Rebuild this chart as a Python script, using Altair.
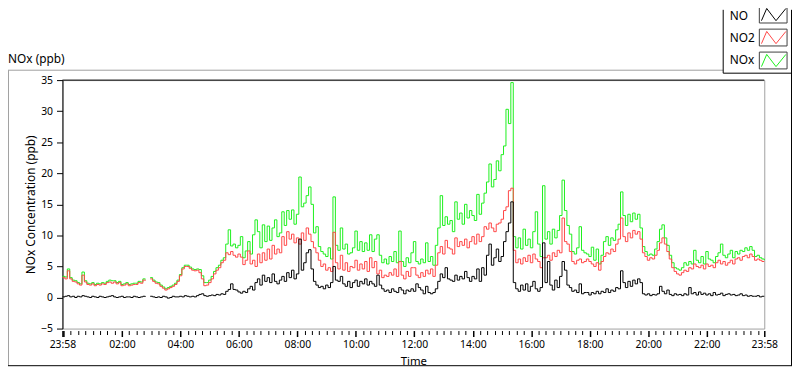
import altair as alt
import pandas as pd

# ---------------- data (5-minute samples starting 23:58) ----------------
STEP_MIN = 5
START_HOUR, START_MIN = 23, 58

NO = [
    0.1, 0.2, 0.3, 0.1, 0.2, 0.0, 0.2, 0.1, 0.3, 0.2,
    0.1, 0.0, 0.2, 0.1, 0.0, 0.2, 0.1, 0.0, 0.1, 0.2,
    0.3, 0.1, 0.0, 0.1, 0.2, 0.0, 0.1, 0.1, 0.0, 0.2,
    0.1, 0.0, 0.1, 0.2, 0.1, None, 0.2, 0.1, 0.0, 0.1,
    0.0, 0.2, 0.1, -0.1, 0.0, 0.2, 0.1, 0.1, 0.2, 0.1,
    0.3, 0.2, 0.1, 0.2, 0.1, 0.3, 0.5, 0.6, 0.3, 0.2,
    0.3, 0.4, 0.3, 0.5, 0.4, 0.6, 0.5, 1.0, 1.3, 2.2,
    1.3, 1.2,
    0.9, 0.7, 1.0, 0.8, 1.4, 1.8, 1.2, 2.4, 3.0, 2.0,
    3.6, 2.6, 3.2, 2.4, 3.8, 2.6, 2.2, 2.8, 3.4, 2.6,
    4.0, 3.2, 4.4, 3.0, 3.8, 9.4, 4.4, 5.6, 7.2, 7.7,
    4.6, 2.6, 2.0, 1.6, 1.8, 1.4, 2.0, 1.6, 2.4, 5.0,
    2.8, 2.6, 3.4, 2.2, 1.8, 2.6, 1.6, 2.4, 2.8, 1.8,
    2.6, 2.2, 3.0, 2.0, 2.6, 2.2, 1.8, 3.6, 2.0, 1.4,
    1.0, 1.2, 0.8, 1.4, 1.0, 0.8, 1.6, 1.2, 0.6, 1.2,
    1.0, 1.4,
    1.0, 2.2, 1.6, 1.2, 0.6, 1.8, 0.8, 0.6, 0.8, 1.4,
    2.6, 3.8, 3.2, 4.8, 3.0, 2.8, 2.6, 3.6, 2.8, 3.4,
    3.0, 4.2, 3.2, 2.6, 3.4, 3.0, 4.6, 2.6, 4.8, 3.6,
    6.8, 8.6, 5.2, 6.4, 7.8, 5.8, 6.6, 9.0, 10.6, 12.0,
    15.4, 2.4, 1.4, 1.0, 2.0, 1.2, 2.2, 1.0, 1.8, 2.6,
    1.4, 1.0, 1.6, 8.8, 2.4, 5.8, 2.0, 1.2, 2.8, 1.6,
    3.4, 5.8, 4.4, 2.0, 1.6, 1.0, 1.2, 0.8, 2.2, 0.6,
    0.8,
    0.8, 0.4, 0.8, 0.6, 1.0, 0.6, 1.0, 0.8, 1.4, 0.8,
    1.2, 1.0, 1.6, 1.4, 4.3, 2.4, 1.6, 2.6, 1.8, 2.8,
    2.2, 3.0, 2.4, 0.6, 0.4, 0.6, 0.3, 0.5, 0.4, 0.6,
    1.8, 1.0, 0.6, 1.2, 0.5, 0.3, 0.6, 0.4, 0.5, 0.3,
    0.6, 0.4, 1.6, 0.6, 0.8, 0.4, 0.9, 0.5, 0.7, 0.4,
    0.6, 0.3, 0.8, 0.4, 0.5, 0.7, 0.3, 0.5, 0.6, 0.4,
    0.5, 0.3, 0.4, 0.6, 0.3, 0.4, 0.2, 0.3, 0.2, 0.2,
    0.3, 0.1, 0.2, 0.2,
]

NO2 = [
    3.2, 3.0, 4.3, 3.0, 2.6, 2.5, 2.2, 2.0, 3.6, 2.5,
    2.1, 2.0, 2.2, 1.9, 2.1, 2.0, 2.2, 2.1, 2.4, 2.5,
    2.3, 2.5, 2.2, 2.4, 1.9, 2.0, 2.2, 1.9, 2.0, 2.1,
    2.1, 2.4, 2.3, 2.8, 2.7, None, 3.0, 2.6, 2.3, 2.2,
    1.8, 1.5, 1.2, 1.4, 1.6, 1.8, 2.1, 2.6, 3.5, 4.6,
    5.0, 5.0, 4.7, 4.4, 4.3, 4.4, 4.0, 3.0, 1.9, 2.0,
    2.4, 3.0, 3.8, 4.4, 4.8, 5.6, 6.0, 7.2, 6.9, 7.4,
    6.8, 6.5,
    7.0, 6.5, 5.3, 6.0, 7.5, 5.4, 6.0, 5.0, 7.0, 5.6,
    7.2, 6.0, 7.8, 6.2, 8.4, 7.0, 7.8, 7.2, 9.8, 8.4,
    10.6, 9.4, 10.2, 8.8, 9.6, 8.6, 10.4, 9.2, 11.2, 10.2,
    9.0, 8.0, 7.2, 6.0, 5.0, 5.4, 4.4, 4.8, 4.2, 10.5,
    5.6, 4.6, 6.8, 4.4, 5.6, 4.2, 5.0, 4.8, 6.0, 4.4,
    5.4, 4.6, 5.8, 4.2, 6.4, 4.8, 5.8, 3.8, 4.4, 3.2,
    3.6, 3.4, 4.0, 3.6, 4.6, 3.4, 5.8, 3.6, 3.0, 4.2,
    3.4, 4.8,
    4.8, 3.6, 3.2, 4.0, 3.4, 4.4, 3.8, 4.6, 3.4, 5.2,
    7.2, 8.2, 7.0, 9.2, 8.0, 7.8, 7.0, 9.6, 8.2, 9.0,
    8.4, 9.4, 8.0, 9.0, 9.8, 8.6, 10.2, 9.0, 9.8, 11.4,
    11.0, 12.0, 11.2, 10.6, 11.8, 12.0, 12.6, 14.0, 14.6, 17.2,
    17.6, 7.6, 5.6, 6.2, 5.4, 6.4, 5.8, 6.8, 5.6, 7.0,
    6.2, 5.8, 4.8, 6.4, 6.4, 6.8, 6.0, 7.2, 6.6, 7.6,
    7.2, 12.8, 9.0, 8.6, 7.4, 5.8, 5.4, 6.0, 6.2, 5.6,
    5.8,
    6.2, 5.8, 5.4, 5.0, 5.6, 4.4, 5.8, 6.6, 7.2, 7.0,
    7.8, 7.4, 8.6, 9.4, 12.8, 9.8, 9.0, 10.4, 9.6, 10.8,
    10.2, 10.6, 9.4, 7.2, 6.6, 6.0, 6.4, 6.2, 6.8, 7.6,
    8.8, 9.6, 8.6, 7.4, 6.2, 4.8, 4.2, 3.8, 3.6, 4.0,
    4.4, 4.2, 4.8, 4.6, 5.4, 5.0, 4.8, 5.2, 4.6, 5.4,
    5.0, 5.2, 4.8, 5.6, 6.0, 5.4, 5.8, 5.2, 5.6, 6.0,
    5.4, 6.2, 6.4, 6.0, 6.6, 6.8, 6.4, 7.0, 6.6, 6.0,
    6.2, 6.0, 5.8, 5.8,
]

NOX = [
    3.4, 3.3, 4.6, 3.2, 2.8, 2.7, 2.4, 2.2, 4.1, 2.7,
    2.3, 2.2, 2.4, 2.1, 2.3, 2.2, 2.4, 2.3, 2.6, 2.8,
    2.7, 2.7, 2.4, 2.6, 2.1, 2.2, 2.4, 2.1, 2.2, 2.3,
    2.3, 2.6, 2.5, 3.0, 2.9, None, 3.2, 2.8, 2.5, 2.4,
    2.0, 1.7, 1.4, 1.6, 1.8, 2.0, 2.3, 2.8, 3.7, 4.8,
    5.2, 5.2, 4.9, 4.6, 4.5, 4.6, 4.5, 3.5, 2.4, 2.4,
    2.8, 3.4, 4.2, 4.8, 5.2, 6.0, 6.4, 8.6, 10.9, 8.3,
    8.6, 8.0,
    8.4, 9.8, 6.4, 7.5, 9.0, 7.0, 10.1, 12.5, 10.6, 8.0,
    11.7, 9.0, 11.5, 9.2, 11.2, 12.5, 9.8, 10.4, 13.8, 11.6,
    14.0, 12.6, 14.1, 11.8, 13.4, 19.4, 14.6, 15.2, 16.4, 17.8,
    15.0, 10.4, 11.4, 8.2, 7.4, 7.0, 6.6, 8.0, 6.2, 16.2,
    8.4, 7.6, 11.2, 7.8, 8.6, 7.0, 7.2, 8.0, 10.7, 7.6,
    9.0, 7.4, 8.8, 7.6, 10.1, 7.4, 9.4, 10.1, 6.8, 5.6,
    6.2, 5.4, 6.6, 5.8, 7.4, 5.6, 10.7, 5.8, 5.0, 6.4,
    5.6, 7.2,
    9.0, 5.8, 5.4, 6.2, 5.6, 8.8, 5.8, 6.6, 5.2, 8.4,
    11.2, 16.4, 11.6, 13.0, 11.8, 12.4, 10.6, 15.4, 12.6, 13.6,
    11.8, 15.0, 12.8, 14.0, 13.2, 12.4, 16.6, 13.4, 15.2, 16.8,
    18.6, 21.5, 17.8, 19.0, 22.0, 20.4, 23.0, 24.4, 30.3, 28.0,
    34.6, 9.8, 8.0, 9.6, 7.8, 11.0, 8.4, 9.4, 8.0, 10.6,
    13.8, 8.6, 6.6, 18.0, 9.4, 10.6, 8.6, 11.0, 9.6, 10.8,
    13.2, 18.9, 14.0, 11.6, 10.2, 7.4, 7.0, 8.0, 11.4, 7.6,
    7.2,
    7.0, 6.6, 8.1, 6.0, 7.8, 5.4, 6.8, 9.0, 9.8, 8.4,
    9.6, 9.2, 10.9, 11.8, 17.0, 13.2, 11.6, 13.4, 12.2, 13.6,
    12.6, 13.4, 11.2, 8.2, 7.4, 6.8, 7.0, 6.8, 7.8, 9.0,
    11.0, 11.7, 9.6, 8.4, 6.8, 5.6, 4.8, 4.6, 4.4, 4.8,
    5.6, 5.2, 5.8, 5.4, 7.6, 6.0, 5.6, 6.6, 5.4, 7.4,
    6.2, 6.0, 5.6, 6.6, 7.2, 8.6, 6.8, 6.4, 7.0, 7.6,
    6.4, 7.4, 7.0, 7.6, 7.4, 8.0, 7.6, 8.2, 7.6, 6.6,
    6.8, 6.4, 6.2, 6.0,
]

SERIES = ["NO", "NO2", "NOx"]
COLORS = ["#000000", "#ff4646", "#1cf01c"]
Y_TICKS = [-5, 0, 5, 10, 15, 20, 25, 30, 35]
X_TITLE = "Time"
Y_TITLE = "NOx Concentration (ppb)"
PANEL_LABEL = "NOx (ppb)"

FONT = "Noto Sans"
W, H = 709, 251

n = len(NO)
df = pd.DataFrame({
    "t": [i * STEP_MIN for i in range(n)],
    "NO": NO,
    "NO2": NO2,
    "NOx": NOX,
})
SPAN = 1440

# tick positions: 23:58 start/end plus every quarter hour
X_TICKS = [0] + [2 + 15 * k for k in range(96)] + [SPAN]
MAJOR = "datum.value == 0 || datum.value == 1440 || (datum.value - 2) % 120 == 0"
LABEL_EXPR = (
    "(datum.value == 0 || datum.value == 1440 || ((datum.value - 2) % 120 == 0 && datum.value != 2))"
    " ? timeFormat(datetime(2000, 0, 1, 23, 58 + datum.value), '%H:%M') : ''"
)

x_axis = alt.Axis(
    values=X_TICKS, labelExpr=LABEL_EXPR,
    tickSize={"condition": {"test": MAJOR, "value": 6}, "value": 4},
    tickWidth={"condition": {"test": MAJOR, "value": 1.5}, "value": 1},
    tickColor="#000000", domain=False, grid=False, offset=2,
    labelFontSize=10.5, labelColor="#000000", labelPadding=3,
    labelOverlap=False, labelFlush=False, labelBound=False,
    title=X_TITLE, titleFontSize=11.5, titleFontWeight="normal", titleColor="#000000",
    titleX=W / 2, titleY=31, titleBaseline="middle", titleAlign="center",
)
y_axis = alt.Axis(
    values=Y_TICKS, tickSize=6, tickColor="#000000", domainColor="#000000",
    grid=False, labelFontSize=10.5, labelPadding=4, labelColor="#000000",
    labelOverlap=False, labelFlush=False,
    title=Y_TITLE, titleFontSize=12, titleFontWeight="normal", titleColor="#000000",
    titleAngle=270, titleX=-32, titleY=H / 2, titleAlign="center", titleBaseline="middle",
)
xs = alt.Scale(domain=[0, SPAN], nice=False, zero=False)
ys = alt.Scale(domain=[-5, 35], nice=False, zero=False)

base = alt.Chart(df)
line_layers = []
for name, color in reversed(list(zip(SERIES, COLORS))):
    line_layers.append(
        base.mark_line(color=color, strokeWidth=1, interpolate="step-after",
                       invalid="break-paths-show-domains")
        .encode(x=alt.X("t:Q", scale=xs, axis=x_axis),
                y=alt.Y(f"{name}:Q", scale=ys, axis=y_axis))
    )

dummy = alt.InlineData(values=[{"d": 0}])


def hrule(x1, x2, y, color):
    return alt.Chart(dummy).mark_rule(color=color, strokeWidth=1).encode(
        x=alt.value(x1), x2=alt.value(x2), y=alt.value(y))


def vrule(x, y1, y2, color):
    return alt.Chart(dummy).mark_rule(color=color, strokeWidth=1).encode(
        x=alt.value(x), y=alt.value(y1), y2=alt.value(y2))


GRAY = "#a0a0a0"
deco = [
    hrule(0, W, 0, "#000000"),              # plot top border
    hrule(-55, 667.5, -10, GRAY),           # panel top
    vrule(-54.5, -10, 288.5, GRAY),         # panel left
    hrule(-55, 737, 288.5, "#000000"),      # panel bottom
    vrule(736.5, -71, 288.5, "#000000"),    # panel right
    vrule(667.5, -71, -7, "#000000"),       # legend left
    hrule(667.5, 737, -7, "#000000"),       # legend bottom
]

texts = [
    alt.Chart(dummy).mark_text(align="left", baseline="middle", fontSize=12, font=FONT,
                               color="#000000")
    .encode(x=alt.value(-55), y=alt.value(-21), text=alt.value(PANEL_LABEL))
]

ZIGZAG = "M-1,0.5L-0.57,-0.5L0.19,0.5L1,-0.5"
legend = []
for k, (name, color) in enumerate(zip(SERIES, COLORS)):
    cy = -66.2 + 23.2 * k
    ty = max(cy, -65)
    legend.append(
        alt.Chart(dummy).mark_rect(fill="white", stroke="#404040", strokeWidth=1)
        .encode(x=alt.value(704), x2=alt.value(732), y=alt.value(cy - 8.5), y2=alt.value(cy + 8.5))
    )
    legend.append(
        alt.Chart(dummy).mark_point(shape=ZIGZAG, size=610, filled=False, stroke=color,
                                    strokeWidth=1, opacity=1)
        .encode(x=alt.value(718.5), y=alt.value(cy))
    )
    legend.append(
        alt.Chart(dummy).mark_text(align="left", baseline="middle", fontSize=12, font=FONT,
                                   color="#000000")
        .encode(x=alt.value(674), y=alt.value(ty), text=alt.value(name))
    )

chart = (
    alt.layer(*line_layers, *deco, *texts, *legend)
    .properties(width=W, height=H,
                autosize=alt.AutoSizeParams(type="none"),
                padding={"left": 55, "top": 71, "right": 28, "bottom": 39})
    .configure(font=FONT, background="white")
    .configure_view(stroke=GRAY, strokeWidth=1)
)

chart.save("out.html", embed_options={"renderer": "svg", "actions": False})
